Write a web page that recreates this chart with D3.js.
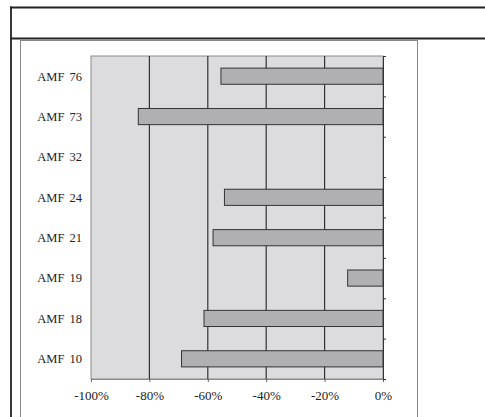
<!DOCTYPE html>
<html>
<head>
<meta charset="utf-8">
<script src="https://cdn.jsdelivr.net/npm/d3@7"></script>
<style>
  body { margin: 0; background: #fff; }
  svg { display: block; }
  text { font-family: 'Liberation Serif', 'DejaVu Serif', serif; fill: #222; }
</style>
</head>
<body>
<svg></svg>
<script>
const categories = ['AMF 76', 'AMF 73', 'AMF 32', 'AMF 24', 'AMF 21', 'AMF 19', 'AMF 18', 'AMF 10'];
const values = [-0.555, -0.838, 0, -0.543, -0.582, -0.121, -0.613, -0.69];
const xTicks = [-1, -0.8, -0.6, -0.4, -0.2, 0];
const xTickLabels = ['-100%', '-80%', '-60%', '-40%', '-20%', '0%'];

const width = 485;
const height = 417;
const svg = d3.select('svg')
  .attr('width', width)
  .attr('height', height);

// frame lines around the chart cell
svg.append('line')
  .attr('x1', 10).attr('x2', width).attr('y1', 7.5).attr('y2', 7.5)
  .attr('stroke', '#222').attr('stroke-width', 1.8);
svg.append('line')
  .attr('x1', 10).attr('x2', width).attr('y1', 38.5).attr('y2', 38.5)
  .attr('stroke', '#222').attr('stroke-width', 1.8);
svg.append('line')
  .attr('x1', 11).attr('x2', 11).attr('y1', 6.6).attr('y2', height)
  .attr('stroke', '#222').attr('stroke-width', 1.8);
svg.append('rect')
  .attr('x', 20.5).attr('y', 40.5).attr('width', 397).attr('height', height)
  .attr('fill', 'none').attr('stroke', '#888');

const plot = { left: 91, right: 383, top: 56, bottom: 379 };

const x = d3.scaleLinear()
  .domain([-1, 0])
  .range([plot.left, plot.right]);
const y = d3.scaleBand()
  .domain(categories)
  .range([plot.top, plot.bottom])
  .paddingInner(0.6)
  .paddingOuter(0.3);

// plot background
svg.append('rect')
  .attr('x', plot.left).attr('y', plot.top)
  .attr('width', plot.right - plot.left).attr('height', plot.bottom - plot.top)
  .attr('fill', '#dcdcde')
  .attr('stroke', '#8a8a8a');

// vertical gridlines
svg.append('g')
  .selectAll('line')
  .data(xTicks.slice(1, -1))
  .enter()
  .append('line')
  .attr('x1', d => x(d)).attr('x2', d => x(d))
  .attr('y1', plot.top).attr('y2', plot.bottom)
  .attr('stroke', '#333')
  .attr('stroke-width', 1.2);

// bars
svg.append('g')
  .selectAll('rect')
  .data(categories.map((c, i) => ({ c, v: values[i] })).filter(d => d.v < 0))
  .enter()
  .append('rect')
  .attr('x', d => x(d.v))
  .attr('y', d => y(d.c))
  .attr('width', d => x(0) - x(d.v))
  .attr('height', y.bandwidth())
  .attr('fill', '#b0b0b3')
  .attr('stroke', '#333')
  .attr('stroke-width', 1);

// x axis
const xAxis = svg.append('g')
  .attr('transform', `translate(0,${plot.bottom})`)
  .call(d3.axisBottom(x)
    .tickValues(xTicks)
    .tickSize(3)
    .tickPadding(9)
    .tickFormat((d, i) => xTickLabels[i]));
xAxis.select('.domain').attr('stroke', '#8a8a8a');
xAxis.selectAll('line').attr('stroke', '#666');
xAxis.selectAll('text')
  .style('font-size', '13px')
  .style('font-family', "'Liberation Serif', serif")
  .attr('fill', '#222');

// right axis at 0% with ticks between categories
const yEdge = d3.scaleLinear().domain([0, categories.length]).range([plot.bottom, plot.top]);
const rAxis = svg.append('g')
  .attr('transform', `translate(${plot.right},0)`)
  .call(d3.axisRight(yEdge)
    .ticks(categories.length)
    .tickSizeInner(3)
    .tickSizeOuter(3)
    .tickFormat(''));
rAxis.select('.domain').attr('stroke', '#333');
rAxis.selectAll('line').attr('stroke', '#333');

// category labels
svg.append('g')
  .selectAll('text')
  .data(categories)
  .enter()
  .append('text')
  .attr('x', 82)
  .attr('y', d => y(d) + y.bandwidth() / 2)
  .attr('dy', '0.35em')
  .attr('text-anchor', 'end')
  .style('font-size', '12.5px')
  .style('word-spacing', '2px')
  .text(d => d);
</script>
</body>
</html>
